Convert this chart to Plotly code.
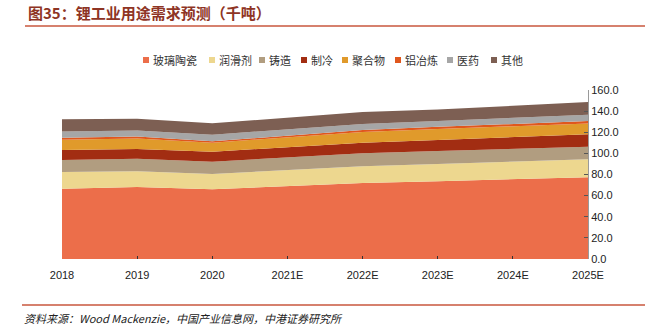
import plotly.graph_objects as go

# Lithium demand by end use, thousand tonnes
years = ["2018", "2019", "2020", "2021E", "2022E", "2023E", "2024E", "2025E"]
ceramics = [66.6, 68.2, 66.0, 69.0, 72.0, 73.7, 75.6, 77.4]
lubricant = [15.8, 14.9, 14.5, 15.2, 15.8, 16.3, 16.6, 17.0]
casting = [11.4, 11.9, 11.6, 12.0, 12.3, 12.3, 12.1, 11.9]
refrigeration = [9.5, 9.2, 9.5, 9.8, 10.0, 10.4, 11.1, 11.7]
polymer = [9.5, 9.8, 8.5, 9.5, 10.1, 10.3, 10.3, 10.4]
aluminium = [1.9, 1.9, 1.3, 1.6, 1.9, 2.1, 2.1, 2.2]
pharma = [6.0, 5.7, 6.3, 6.0, 5.7, 5.6, 5.8, 6.0]
other = [11.7, 11.1, 10.8, 11.1, 11.4, 10.8, 11.4, 12.0]

names = ["玻璃陶瓷", "润滑剂", "铸造", "制冷", "聚合物", "铝冶炼", "医药", "其他"]
colors = ["#EC6E4A", "#EDD78F", "#B19D80", "#A22D12", "#E09A2B", "#E0571D", "#A6A6A6", "#7D5F53"]
series = [ceramics, lubricant, casting, refrigeration, polymer, aluminium, pharma, other]

xs = list(range(len(years)))

# plot area in pixels (for placing the legend, title and rules)
PL, PR, PT, PB = 62, 588, 90, 259


def px_x(p):
    return (p - PL) / (PR - PL)


def px_y(p):
    return (PB - p) / (PB - PT)


fig = go.Figure()
for name, color, vals in zip(names, colors, series):
    fig.add_trace(go.Scatter(
        x=xs, y=vals, name=name, mode="lines",
        stackgroup="one", line=dict(width=0, color=color),
        fillcolor=color, showlegend=False,
    ))

cjk = "Noto Sans CJK SC"
latin = "Liberation Sans, Arial"

fig.update_layout(
    width=650, height=331,
    margin=dict(l=PL, r=650 - PR, t=PT, b=331 - PB),
    paper_bgcolor="white", plot_bgcolor="white",
    showlegend=False,
    xaxis=dict(
        range=[0, len(years) - 1], tickmode="array", tickvals=xs, ticktext=years,
        showgrid=False, zeroline=False, showline=False,
        ticks="inside", ticklen=3, tickcolor="#333333",
        ticklabelstandoff=8,
        tickfont=dict(family=latin, size=11, color="#222222"),
    ),
    yaxis=dict(
        side="right", range=[0, 160], dtick=20, tickformat=".1f",
        showgrid=False, zeroline=False, showline=True, linecolor="#9a9a9a", linewidth=1,
        ticks="inside", ticklen=4, tickcolor="#555555",
        tickfont=dict(family=latin, size=11, color="#222222"),
    ),
    font=dict(family=cjk),
)

# Legend: small square swatch followed by the series name
legend_marker_px = [143, 209, 259, 301, 342, 395, 447, 491]
legend_y = 60
for name, color, mx in zip(names, colors, legend_marker_px):
    fig.add_shape(type="rect", xref="paper", yref="paper",
                  x0=px_x(mx), x1=px_x(mx + 6),
                  y0=px_y(legend_y + 3), y1=px_y(legend_y - 3),
                  fillcolor=color, line=dict(width=0))
    fig.add_annotation(xref="paper", yref="paper", x=px_x(mx + 8), y=px_y(legend_y),
                       xanchor="left", yanchor="middle", text=name, showarrow=False,
                       font=dict(family=cjk, size=11, color="#333333"))

# Title and rules
fig.add_annotation(
    xref="paper", yref="paper", x=px_x(26), y=px_y(13), xanchor="left", yanchor="middle",
    text="<b>图35：锂工业用途需求预测（千吨）</b>", showarrow=False,
    font=dict(family=cjk, size=15, color="#8E3424"),
)
fig.add_shape(type="line", xref="paper", yref="paper",
              x0=px_x(25), x1=px_x(645), y0=px_y(26), y1=px_y(26),
              line=dict(color="#C8573E", width=1.5))
fig.add_shape(type="line", xref="paper", yref="paper",
              x0=px_x(22), x1=px_x(645), y0=px_y(305), y1=px_y(305),
              line=dict(color="#C8573E", width=1.5))
fig.add_annotation(
    xref="paper", yref="paper", x=px_x(22), y=px_y(318), xanchor="left", yanchor="middle",
    text="<i>资料来源：Wood Mackenzie，中国产业信息网，中港证券研究所</i>", showarrow=False,
    font=dict(family=cjk, size=11, color="#222222"),
)

fig.write_html("out.html")
